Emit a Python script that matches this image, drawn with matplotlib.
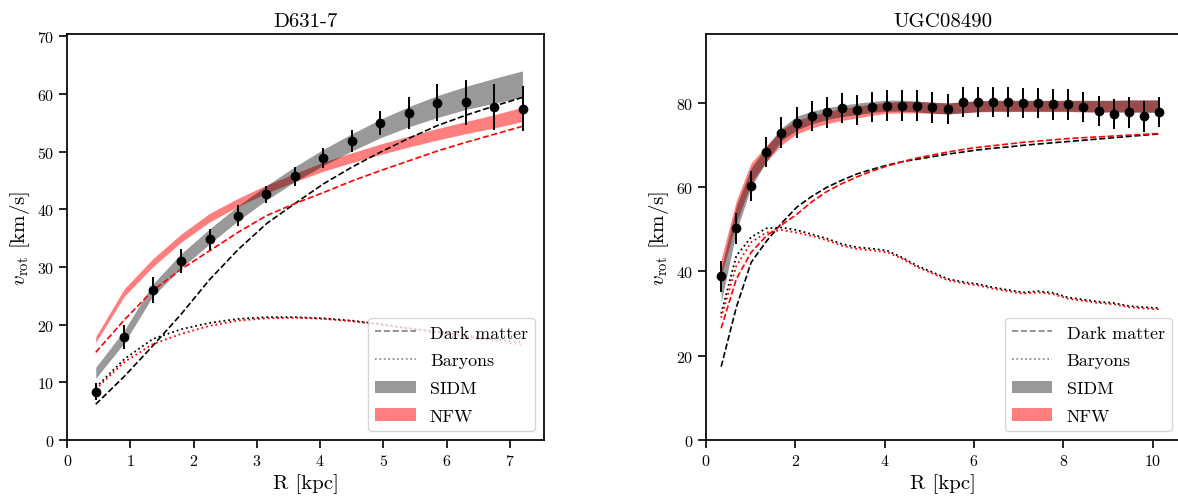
import numpy as np
import matplotlib
matplotlib.use('Agg')
import matplotlib.pyplot as plt
from matplotlib.lines import Line2D
from matplotlib.patches import Patch

plt.rcParams['font.family'] = 'serif'
plt.rcParams['font.serif'] = ['cmr10']
plt.rcParams['mathtext.fontset'] = 'cm'
plt.rcParams['axes.formatter.use_mathtext'] = True
plt.rcParams['axes.linewidth'] = 1.25

# ---- D631-7 ----
r1 = [0.45, 0.90, 1.35, 1.80, 2.25, 2.70, 3.15, 3.60, 4.05, 4.50, 4.95, 5.40, 5.85, 6.30, 6.75, 7.20]
v1 = [8.4, 17.8, 26.0, 31.0, 34.8, 38.9, 42.6, 45.7, 48.9, 51.9, 54.9, 56.7, 58.5, 58.6, 57.8, 57.4]
e1 = [1.4, 2.1, 2.3, 2.1, 1.8, 1.8, 1.5, 1.6, 1.7, 1.9, 2.1, 2.7, 3.2, 3.9, 4.0, 3.9]
sidm1_lo = [10.7, 16.8, 24.9, 29.8, 34.0, 38.0, 41.6, 44.8, 47.6, 50.1, 52.4, 54.3, 55.9, 57.3, 58.4, 59.4]
sidm1_hi = [12.6, 19.0, 27.0, 32.3, 36.6, 40.6, 44.1, 47.4, 50.4, 53.1, 55.6, 57.8, 59.7, 61.3, 62.7, 64.0]
nfw1_lo = [16.9, 24.9, 30.0, 34.3, 37.8, 40.5, 42.8, 44.8, 46.6, 48.1, 49.5, 50.8, 52.0, 53.1, 54.1, 55.2]
nfw1_hi = [17.9, 26.2, 31.4, 35.7, 39.3, 41.9, 44.2, 46.2, 48.2, 49.8, 51.3, 52.7, 54.0, 55.2, 56.4, 57.7]
dm1_sidm = [6.2, 11.0, 16.3, 21.8, 27.8, 33.0, 37.5, 41.0, 44.4, 47.3, 49.9, 52.3, 54.5, 56.3, 57.9, 59.4]
dm1_nfw = [15.2, 20.8, 25.9, 29.6, 32.8, 36.0, 38.9, 41.0, 42.9, 44.9, 46.7, 48.4, 50.1, 51.6, 53.0, 54.4]
bar1_sidm = [9.1, 14.0, 17.5, 19.2, 20.3, 21.0, 21.3, 21.3, 21.1, 20.7, 20.1, 19.4, 18.8, 18.1, 17.5, 16.9]
bar1_nfw = [8.8, 13.5, 16.6, 18.4, 19.8, 20.7, 21.1, 21.2, 21.0, 20.6, 20.0, 19.3, 18.6, 17.9, 17.2, 16.5]

# ---- UGC08490 ----
r2 = [0.34, 0.68, 1.01, 1.35, 1.69, 2.03, 2.37, 2.70, 3.04, 3.38, 3.72, 4.06, 4.39, 4.73, 5.07,
      5.41, 5.75, 6.08, 6.42, 6.76, 7.10, 7.44, 7.77, 8.11, 8.45, 8.79, 9.13, 9.46, 9.80, 10.14]
v2 = [38.8, 50.2, 60.3, 68.3, 72.9, 75.3, 76.8, 77.7, 78.7, 78.3, 79.0, 79.3, 79.3, 79.3, 78.9,
      78.5, 80.2, 80.2, 80.2, 80.2, 79.9, 79.9, 79.6, 79.6, 79.0, 78.0, 77.3, 77.7, 76.8, 77.8]
e2 = [3.7, 3.6, 3.6, 3.6, 3.6, 3.7, 3.6, 3.6, 3.6, 3.6, 3.6, 3.6, 3.6, 3.6, 3.6,
      3.6, 3.6, 3.6, 3.6, 3.6, 3.6, 3.6, 3.6, 3.6, 3.6, 3.6, 3.6, 3.6, 3.7, 3.6]
sidm2_lo = [32.7, 49.5, 60.0, 66.0, 71.0, 73.5, 75.0, 76.0, 76.7, 77.2, 77.7, 78.0, 78.0, 77.8, 77.5,
            77.3, 77.6, 77.9, 78.0, 78.0, 78.0, 78.0, 78.0, 78.0, 77.9, 77.8, 77.8, 77.8, 77.7, 77.7]
sidm2_hi = [40.6, 55.5, 64.5, 69.5, 74.0, 76.8, 78.0, 78.8, 79.4, 79.9, 80.3, 80.6, 80.6, 80.4, 80.1,
            79.9, 80.2, 80.5, 80.6, 80.6, 80.6, 80.6, 80.6, 80.6, 80.6, 80.6, 80.6, 80.7, 80.7, 80.7]
nfw2_lo = [39.0, 51.6, 61.0, 66.0, 70.0, 72.6, 74.0, 75.0, 75.8, 76.4, 77.0, 77.5, 77.6, 77.6, 77.5,
           77.4, 77.6, 77.8, 77.9, 77.9, 77.9, 77.9, 77.9, 77.9, 77.8, 77.8, 77.8, 77.8, 77.8, 77.8]
nfw2_hi = [42.9, 56.8, 65.7, 69.8, 73.6, 75.8, 77.0, 77.9, 78.6, 79.2, 79.7, 80.1, 80.3, 80.3, 80.1,
           80.0, 80.2, 80.4, 80.5, 80.5, 80.5, 80.5, 80.5, 80.5, 80.5, 80.5, 80.5, 80.6, 80.6, 80.6]
dm2_sidm = [17.4, 31.5, 42.1, 47.1, 51.4, 55.2, 57.8, 59.9, 61.6, 63.1, 64.2, 65.2, 66.0, 66.6, 67.2,
            67.8, 68.3, 68.8, 69.2, 69.5, 69.9, 70.2, 70.5, 70.8, 71.1, 71.4, 71.7, 72.0, 72.3, 72.6]
dm2_nfw = [26.5, 38.2, 44.5, 48.4, 51.0, 53.5, 56.5, 58.9, 60.8, 62.4, 63.8, 65.0, 66.0, 66.9, 67.6,
           68.3, 68.9, 69.4, 69.8, 70.2, 70.6, 70.9, 71.2, 71.5, 71.7, 71.9, 72.1, 72.3, 72.5, 72.7]
bar2_sidm = [30.0, 43.7, 48.1, 50.2, 50.4, 49.8, 48.8, 47.8, 46.5, 45.7, 45.4, 44.9, 43.3, 41.3, 39.8,
             38.2, 37.5, 37.0, 36.2, 35.6, 35.0, 35.3, 34.9, 33.8, 33.3, 32.8, 32.5, 31.8, 31.5, 31.3]
bar2_nfw = [29.0, 41.3, 46.9, 49.2, 49.8, 49.2, 48.4, 47.4, 46.1, 45.3, 45.0, 44.5, 43.0, 41.0, 39.5,
            37.9, 37.2, 36.7, 35.9, 35.3, 34.7, 35.0, 34.6, 33.5, 33.0, 32.5, 32.2, 31.5, 31.2, 31.0]

fig = plt.figure(figsize=(11.78, 5.02), dpi=100)
ax1 = fig.add_axes([0.0571, 0.1215, 0.4047, 0.8088])
ax2 = fig.add_axes([0.5993, 0.1215, 0.4031, 0.8088])


def panel(ax, r, v, e, slo, shi, nlo, nhi, dms, dmn, bs, bn, title):
    ax.fill_between(r, nlo, nhi, color='red', alpha=0.5, lw=0)
    ax.fill_between(r, slo, shi, color='k', alpha=0.4, lw=0)
    ax.plot(r, dms, 'k--', lw=1.2)
    ax.plot(r, dmn, 'r--', lw=1.2)
    ax.plot(r, bs, 'k:', lw=1.3)
    ax.plot(r, bn, 'r:', lw=1.3)
    ax.errorbar(r, v, yerr=e, fmt='o', color='k', ms=6, elinewidth=1.4)
    ax.set_title(title, fontsize=15)
    ax.set_xlabel('R [kpc]', fontsize=15, labelpad=4)
    ax.set_ylabel(r'$v_{\rm rot}$ [km/s]', fontsize=15)
    ax.tick_params(labelsize=11.5, length=5.5, width=1.2)
    handles = [Line2D([], [], color='gray', ls='--', lw=1.2),
               Line2D([], [], color='gray', ls=':', lw=1.2),
               Patch(color='k', alpha=0.4, lw=0),
               Patch(color='red', alpha=0.5, lw=0)]
    ax.legend(handles, ['Dark matter', 'Baryons', 'SIDM', 'NFW'],
              loc='lower right', fontsize=12.9, labelspacing=0.68,
              handlelength=2.25)


panel(ax1, r1, v1, e1, sidm1_lo, sidm1_hi, nfw1_lo, nfw1_hi,
      dm1_sidm, dm1_nfw, bar1_sidm, bar1_nfw, 'D631-7')
ax1.set_xlim(0, 7.54)
ax1.set_ylim(0, 70.4)

panel(ax2, r2, v2, e2, sidm2_lo, sidm2_hi, nfw2_lo, nfw2_hi,
      dm2_sidm, dm2_nfw, bar2_sidm, bar2_nfw, 'UGC08490')
ax2.set_xlim(0, 10.63)
ax2.set_ylim(0, 96.3)
ax2.set_yticks([0, 20, 40, 60, 80])

fig.savefig('out.png', dpi=100)
